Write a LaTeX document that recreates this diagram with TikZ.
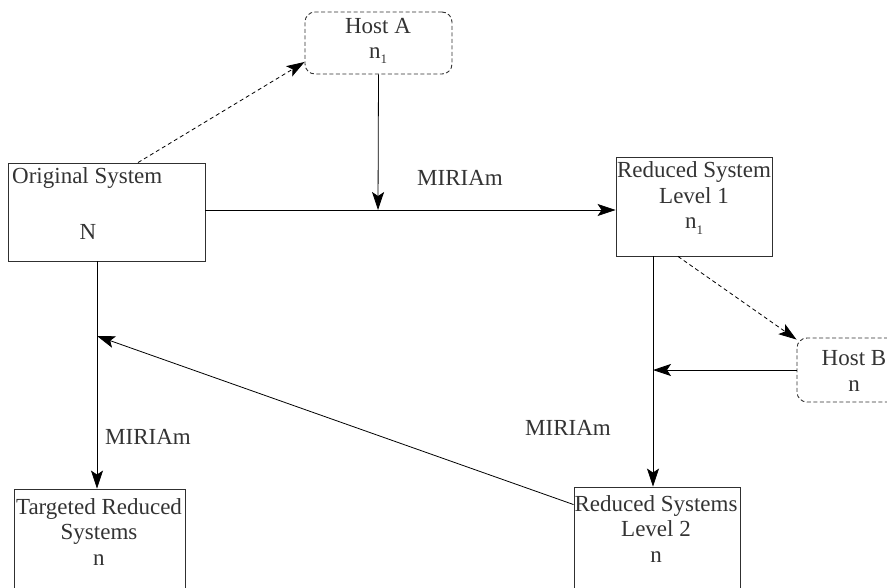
\documentclass[tikz,border=0pt]{standalone}
\usepackage{fontspec}
\setmainfont{Liberation Serif}
\usetikzlibrary{arrows.meta}
\definecolor{txtgray}{HTML}{333333}
\definecolor{boxgray}{HTML}{303030}
\newcommand{\lowidx}[1]{\raisebox{-0.5ex}{\fontsize{13}{13}\selectfont #1}}
\begin{document}
\begin{tikzpicture}[x=1pt,y=-1pt,
  sysbox/.style={draw=boxgray,line width=0.9pt,inner sep=0pt},
  hostbox/.style={draw=boxgray,line width=0.9pt,dash pattern=on 4pt off 2.5pt,rounded corners=10pt,inner sep=0pt},
  txt/.style={text=txtgray,align=center,font=\fontsize{23}{25.5}\selectfont,inner sep=0pt},
  arrow line/.style={line width=0.8pt,-{Stealth[length=18pt,width=12pt,inset=4pt]}}]
\useasboundingbox (0,0) rectangle (887,587);
\clip (0,0) rectangle (887,587);
% boxes
\node[sysbox,minimum width=197pt,minimum height=98pt] (orig) at (106.5,212) {};
\node[sysbox,minimum width=156pt,minimum height=99pt] (red1) at (694,206.5) {};
\node[sysbox,minimum width=171pt,minimum height=112pt] (targ) at (99.5,545) {};
\node[sysbox,minimum width=166pt,minimum height=113pt] (red2) at (657,543.5) {};
\node[hostbox,minimum width=147pt,minimum height=62pt] (hostA) at (378.5,43) {}; % host A
\node[hostbox,minimum width=114pt,minimum height=64pt] (hostB) at (854,370) {}; % host B
% texts
\node[txt,anchor=west] (origlbl) at (12,178) {Original System};
\node[txt] (orign) at (88,232) {N};
\node[txt] (hostAlbl) at (378,41) {Host A\\n\lowidx{1}};
\node[txt] (red1lbl) at (694,198) {Reduced System\\Level 1\\n\lowidx{1}};
\node[txt] (hostBlbl) at (854,371) {Host B\\n};
\node[txt] (targlbl) at (99,532) {Targeted Reduced\\Systems\\n};
\node[txt] (red2lbl) at (656,529) {Reduced Systems\\Level 2\\n};
\node[txt] (mir1) at (460,178) {MIRIAm};
\node[txt] (mir2) at (148,437) {MIRIAm};
\node[txt] (mir3) at (568,428) {MIRIAm};
% meeting points on the lines
\coordinate (hubA) at (378,210);
\coordinate (hubL) at (97,336);
\coordinate (hubR) at (653,370);
% connectors
\draw[arrow line,dash pattern=on 4pt off 3pt] ([xshift=31.5pt]orig.north) -- ([yshift=-19pt]hostA.west); % to host A
\draw[arrow line] (hostA.south) -- (hubA);
\draw[arrow line] (orig.east |- hubA) -- (red1.west |- hubA);
\draw[arrow line] (orig.south -| hubL) -- (targ.north -| hubL);
\draw[arrow line] ([yshift=-18pt]red2.north west) -- (hubL); % back to the left line
\draw[arrow line] (red1.south -| hubR) -- (red2.north -| hubR);
\draw[arrow line,dash pattern=on 4pt off 3pt] ([xshift=-16pt]red1.south) -- ([yshift=-2pt]hostB.north west); % to host B
\draw[arrow line] (hostB.west) -- (hubR);
\end{tikzpicture}
\end{document}
